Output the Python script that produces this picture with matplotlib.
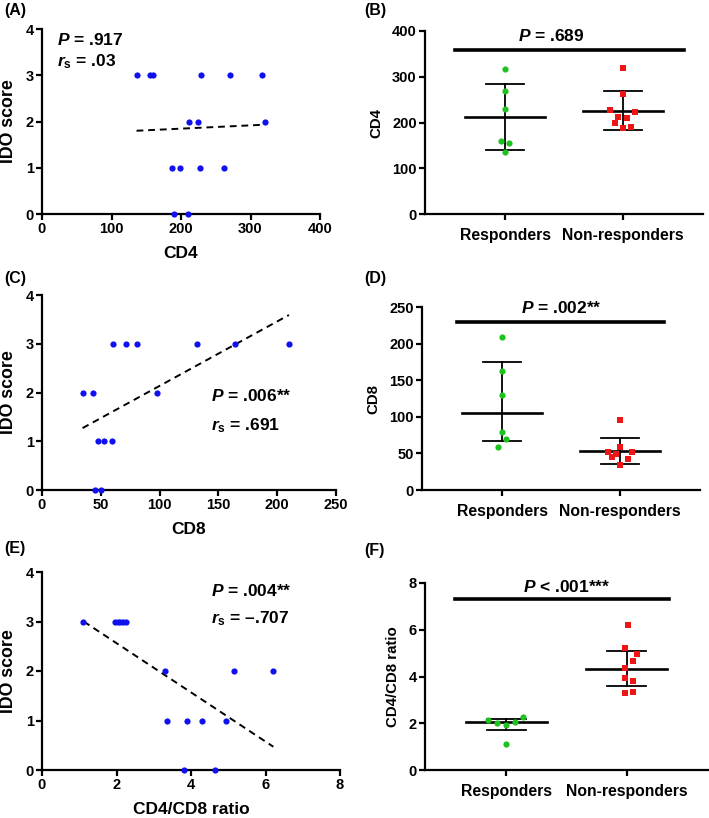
import numpy as np
import matplotlib
matplotlib.use("Agg")
import matplotlib.pyplot as plt

plt.rcParams['font.family'] = ['Liberation Sans', 'DejaVu Sans']
plt.rcParams['font.weight'] = 'bold'
plt.rcParams['mathtext.fontset'] = 'custom'
plt.rcParams['mathtext.it'] = 'Liberation Sans:italic:bold'
plt.rcParams['mathtext.rm'] = 'Liberation Sans:bold'
plt.rcParams['mathtext.bf'] = 'Liberation Sans:bold'

# ---------------- data ----------------
# Panel A: CD4 vs IDO score
a_cd4 = [136, 155, 160, 229, 270, 317, 212, 224, 321, 187, 199, 228, 262, 190, 210]
a_ido = [3, 3, 3, 3, 3, 3, 2, 2, 2, 1, 1, 1, 1, 0, 0]
a_fit_x = [136, 319]
a_fit_y = [1.80, 1.93]

# Panel C: CD8 vs IDO score
c_cd8 = [60.3, 71.6, 80.7, 131.7, 164.5, 210.4, 34.5, 43.6, 97.4, 47.6, 52.9, 59.7, 45, 50.1]
c_ido = [3, 3, 3, 3, 3, 3, 2, 2, 2, 1, 1, 1, 0, 0]
c_fit_x = [34.5, 210]
c_fit_y = [1.27, 3.59]

# Panel E: CD4/CD8 ratio vs IDO score
e_ratio = [1.1, 1.95, 2.03, 2.1, 2.18, 2.26, 3.3, 5.15, 6.2, 3.35, 3.9, 4.3, 4.95, 3.8, 4.65]
e_ido = [3, 3, 3, 3, 3, 3, 2, 2, 2, 1, 1, 1, 1, 0, 0]
e_fit_x = [1.12, 6.21]
e_fit_y = [3.0, 0.47]

groups = ["Responders", "Non-responders"]

# Panel B: CD4 by group
b_resp = [316, 269, 229, 160, 155, 136]
b_resp_jit = [0, 0, 0, -0.034, 0.034, 0]
b_non = [320, 262, 228, 224, 211, 210, 198, 187, 190]
b_non_jit = [0, 0, -0.107, 0.10, -0.04, 0.03, -0.07, 0, 0.07]
b_center = [211, 226]
b_low = [139, 183]
b_high = [284, 269]

# Panel D: CD8 by group
d_resp = [209, 163, 130, 79, 70, 59]
d_resp_jit = [0, 0, 0, 0, 0.037, -0.034]
d_non = [96, 59, 52.3, 51.8, 49.1, 44.5, 42.7, 33.6]
d_non_jit = [0, 0, -0.105, 0.105, -0.037, -0.07, 0.065, 0]
d_center = [105, 53]
d_low = [67.5, 35]
d_high = [175, 70.5]

# Panel F: CD4/CD8 ratio by group
f_resp = [2.16, 1.99, 1.92, 2.06, 2.28, 1.10]
f_resp_jit = [-0.15, -0.076, 0, 0.07, 0.14, 0]
f_non = [6.22, 5.2, 4.98, 4.67, 4.36, 3.94, 3.80, 3.29, 3.35]
f_non_jit = [0.014, -0.014, 0.087, 0.056, -0.014, -0.014, 0.056, -0.014, 0.056]
f_center = [2.04, 4.34]
f_low = [1.71, 3.59]
f_high = [2.18, 5.08]

BLUE = '#1010ee'
GREEN = '#1ec21e'
RED = '#ee1515'

W, H = 709, 818
fig = plt.figure(figsize=(W / 100, H / 100), dpi=100)


def ax_px(l, r, t, b):
    return fig.add_axes([l / W, 1 - b / H, (r - l) / W, (b - t) / H])


def style(ax, xsize=10.5):
    for s in ['top', 'right']:
        ax.spines[s].set_visible(False)
    for s in ['left', 'bottom']:
        ax.spines[s].set_linewidth(1.6)
    ax.tick_params(width=1.6, length=4, labelsize=10.5, pad=2)
    ax.tick_params(axis='x', labelsize=xsize)


def scatter_panel(ax, x, y, fx, fy, xmax, xticks, xlabel):
    ax.scatter(x, y, s=20, color=BLUE, zorder=3, clip_on=False, linewidths=0)
    ax.plot(fx, fy, ls=(0, (3.5, 2.5)), color='black', lw=1.4)
    ax.set_xlim(0, xmax)
    ax.set_ylim(0, 4)
    ax.set_xticks(xticks, labels=[str(v) for v in xticks], fontweight='bold')
    ax.set_yticks([0, 1, 2, 3, 4], labels=['0', '1', '2', '3', '4'], fontweight='bold')
    ax.set_xlabel(xlabel, fontsize=12.5, fontweight='bold', labelpad=7)
    ax.set_ylabel('IDO score', fontsize=12.8, fontweight='bold', labelpad=6)
    style(ax)


def group_panel(ax, resp, rj, non, nj, center, low, high, ymax, yticks, ylabel,
                bar_y, bar_x, ptxt, ptxt_xy):
    ax.scatter(np.array(rj) + 0, resp, s=20, color=GREEN, marker='o', zorder=3,
               linewidths=0, clip_on=False)
    ax.scatter(np.array(nj) + 1, non, s=20, color=RED, marker='s', zorder=3,
               linewidths=0, clip_on=False)
    for i in range(2):
        ax.plot([i - 0.34, i + 0.34], [center[i], center[i]], color='black', lw=1.9, zorder=2)
        ax.plot([i, i], [low[i], high[i]], color='black', lw=1.3, zorder=2)
        for v in (low[i], high[i]):
            ax.plot([i - 0.165, i + 0.165], [v, v], color='black', lw=1.3, zorder=2)
    ax.plot(bar_x, [bar_y, bar_y], color='black', lw=2.6, clip_on=False)
    ax.text(ptxt_xy[0], ptxt_xy[1], ptxt, ha='center', va='center', fontsize=12.5,
            fontweight='bold')
    ax.set_xlim(-0.678, 1.678)
    ax.set_ylim(0, ymax)
    ax.set_xticks([0, 1], labels=groups, fontweight='bold')
    ax.set_yticks(yticks, labels=[str(v) for v in yticks], fontweight='bold')
    ax.set_ylabel(ylabel, fontsize=10.8, fontweight='bold', labelpad=6)
    style(ax, xsize=11.3)
    ax.tick_params(axis='x', pad=6)


# Panel A
axA = ax_px(42, 320, 29, 214)
scatter_panel(axA, a_cd4, a_ido, a_fit_x, a_fit_y, 400, [0, 100, 200, 300, 400], 'CD4')
axA.text(21, 3.76, r'$P$ = .917', fontsize=12.5, va='center')
axA.text(21, 3.29, r'$r_\mathrm{s}$ = .03', fontsize=12.5, va='center')

# Panel C
axC = ax_px(42, 336, 295, 490)
scatter_panel(axC, c_cd8, c_ido, c_fit_x, c_fit_y, 250, [0, 50, 100, 150, 200, 250], 'CD8')
axC.text(144, 1.93, r'$P$ = .006**', fontsize=12.5, va='center')
axC.text(144, 1.32, r'$r_\mathrm{s}$ = .691', fontsize=12.5, va='center')

# Panel E
axE = ax_px(42, 340, 572, 770)
scatter_panel(axE, e_ratio, e_ido, e_fit_x, e_fit_y, 8, [0, 2, 4, 6, 8], 'CD4/CD8 ratio')
axE.text(4.55, 3.61, r'$P$ = .004**', fontsize=12.5, va='center')
axE.text(4.55, 3.05, r'$r_\mathrm{s}$ = –.707', fontsize=12.5, va='center')

# Panel B
axB = ax_px(425, 703, 31, 214)
group_panel(axB, b_resp, b_resp_jit, b_non, b_non_jit, b_center, b_low, b_high,
            400, [0, 100, 200, 300, 400], 'CD4', 359, [-0.42, 1.52],
            r'$P$ = .689', (0.39, 389))

# Panel D
axD = ax_px(422, 700, 307, 490)
group_panel(axD, d_resp, d_resp_jit, d_non, d_non_jit, d_center, d_low, d_high,
            250, [0, 50, 100, 150, 200, 250], 'CD8', 230, [-0.38, 1.37],
            r'$P$ = .002**', (0.5, 249))

# Panel F
axF = ax_px(425, 708, 583, 770)
group_panel(axF, f_resp, f_resp_jit, f_non, f_non_jit, f_center, f_low, f_high,
            8, [0, 2, 4, 6, 8], 'CD4/CD8 ratio', 7.33, [-0.43, 1.35],
            r'$P$ < .001***', (0.5, 7.83))

# Panel letters
for lab, (x, y) in {'(A)': (4, 10), '(B)': (364, 10), '(C)': (4, 278),
                    '(D)': (364, 278), '(E)': (4, 548), '(F)': (364, 550)}.items():
    fig.text(x / W, 1 - y / H, lab, fontsize=11.5, fontweight='bold', va='center', ha='left')

fig.savefig('out.png', dpi=100)
